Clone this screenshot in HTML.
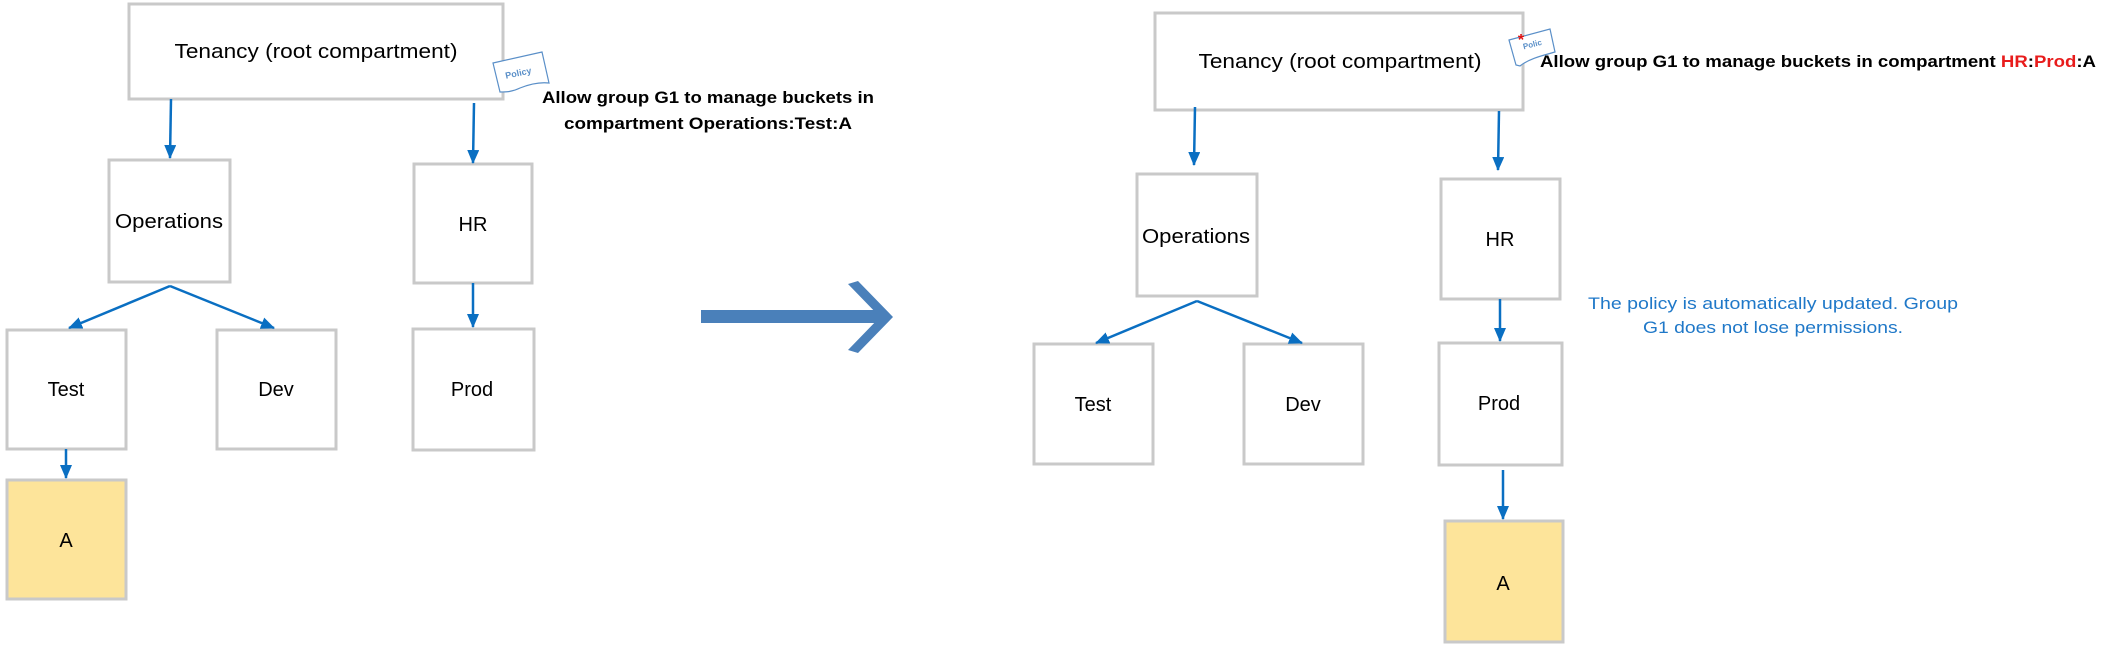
<!DOCTYPE html>
<html><head><meta charset="utf-8"><style>
html,body{margin:0;padding:0;background:#fff;}
svg{display:block;}
text{font-family:"Liberation Sans",sans-serif;}
</style></head><body>
<svg width="2103" height="646" viewBox="0 0 2103 646" xmlns="http://www.w3.org/2000/svg">
<defs>
<marker id="ah" markerWidth="14" markerHeight="12" refX="13" refY="6" orient="auto" markerUnits="userSpaceOnUse" viewBox="0 0 14 12">
<path d="M0,0 L14,6 L0,12 Z" fill="#0a6fc2"/>
</marker>
</defs>
<g fill="#fff" stroke="#c9c9c9" stroke-width="3">
<rect x="129" y="4" width="374" height="95"/>
<rect x="109" y="160" width="121" height="122"/>
<rect x="414" y="164" width="118" height="119"/>
<rect x="7" y="330" width="119" height="119"/>
<rect x="217" y="330" width="119" height="119"/>
<rect x="413" y="329" width="121" height="121"/>
<rect x="7" y="480" width="119" height="119" fill="#fde49a"/>
<rect x="1155" y="13" width="368" height="97"/>
<rect x="1137" y="174" width="120" height="122"/>
<rect x="1441" y="179" width="119" height="120"/>
<rect x="1034" y="344" width="119" height="120"/>
<rect x="1244" y="344" width="119" height="120"/>
<rect x="1439" y="343" width="123" height="122"/>
<rect x="1445" y="521" width="118" height="121" fill="#fde49a"/>
</g>
<g stroke="#0a6fc2" stroke-width="2.5" fill="none" marker-end="url(#ah)">
<line x1="171" y1="99" x2="170" y2="158"/>
<line x1="474" y1="103" x2="473" y2="163"/>
<line x1="170" y1="286" x2="69" y2="328"/>
<line x1="170" y1="286" x2="274" y2="328"/>
<line x1="473" y1="283" x2="473" y2="327"/>
<line x1="66" y1="449" x2="66" y2="478"/>
<line x1="1195" y1="107" x2="1194" y2="165"/>
<line x1="1499" y1="111" x2="1498" y2="170"/>
<line x1="1197" y1="301" x2="1096" y2="343"/>
<line x1="1197" y1="301" x2="1302" y2="343"/>
<line x1="1500" y1="299" x2="1500" y2="341"/>
<line x1="1503" y1="470" x2="1503" y2="519"/>
</g>
<rect x="701" y="310" width="180" height="13" fill="#4a80ba"/>
<path d="M848,284 L858,281 L893,317 L858,353 L848,350 L880,317 Z" fill="#4a80ba"/>
<path d="M493,63 L542,52 L549,83 C540,82 530,84 520,88 C512,92 506,92 500,92 Z" fill="#fff" stroke="#5a8fc8" stroke-width="1.2"/>
<text x="519" y="76" font-size="9" fill="#5a8fc8" font-weight="bold" transform="rotate(-12 519 76)" text-anchor="middle">Policy</text>
<path d="M1509,40 L1550,29 L1555,52 C1545,55 1530,58 1520,66 L1516,65 Z" fill="#fff" stroke="#5a8fc8" stroke-width="1.2"/>
<text x="1533" y="47" font-size="8" fill="#5a8fc8" font-weight="bold" transform="rotate(-14 1533 47)" text-anchor="middle">Polic</text>
<text x="1521" y="45" font-size="16" fill="#e01010" font-weight="bold" text-anchor="middle">*</text>
<g font-size="20" fill="#000" text-anchor="middle">
<text x="316" y="58" textLength="283" lengthAdjust="spacingAndGlyphs">Tenancy (root compartment)</text>
<text x="169" y="228" textLength="108" lengthAdjust="spacingAndGlyphs">Operations</text>
<text x="473" y="231">HR</text>
<text x="66" y="396">Test</text>
<text x="276" y="396">Dev</text>
<text x="472" y="396">Prod</text>
<text x="66" y="547">A</text>
<text x="1340" y="68" textLength="283" lengthAdjust="spacingAndGlyphs">Tenancy (root compartment)</text>
<text x="1196" y="243" textLength="108" lengthAdjust="spacingAndGlyphs">Operations</text>
<text x="1500" y="246">HR</text>
<text x="1093" y="411">Test</text>
<text x="1303" y="411">Dev</text>
<text x="1499" y="410">Prod</text>
<text x="1503" y="590">A</text>
</g>
<g font-size="17" font-weight="bold" fill="#000">
<text x="542" y="103" textLength="332" lengthAdjust="spacingAndGlyphs">Allow group G1 to manage buckets in</text>
<text x="564" y="129" textLength="288" lengthAdjust="spacingAndGlyphs">compartment Operations:Test:A</text>
<text x="1540" y="67" textLength="556" lengthAdjust="spacingAndGlyphs">Allow group G1 to manage buckets in compartment <tspan fill="#e81c1c">HR</tspan>:<tspan fill="#e81c1c">Prod</tspan>:A</text>
</g>
<g font-size="17" fill="#1f78c8">
<text x="1588" y="309" textLength="370" lengthAdjust="spacingAndGlyphs">The policy is automatically updated. Group</text>
<text x="1643" y="333" textLength="260" lengthAdjust="spacingAndGlyphs">G1 does not lose permissions.</text>
</g>
</svg>
</body></html>
